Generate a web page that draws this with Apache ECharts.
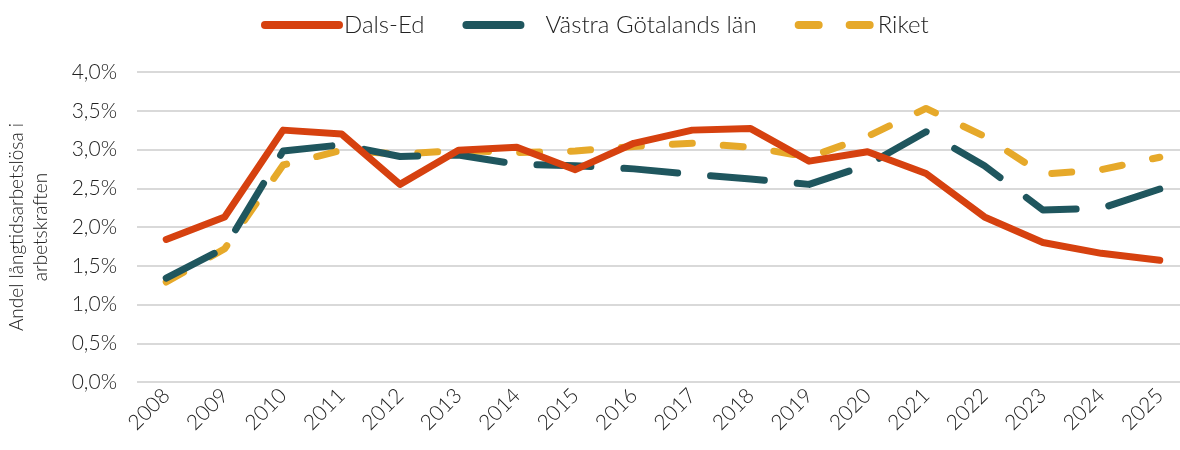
<!DOCTYPE html>
<html>
<head>
<meta charset="utf-8">
<script src="https://cdn.jsdelivr.net/npm/echarts@6/dist/echarts.min.js"></script>
<style>
  html, body { margin: 0; padding: 0; background: #fff; }
  #chart { width: 1180px; height: 450px; }
</style>
</head>
<body>
<div id="chart"></div>
<script>
// år
var years = ['2008','2009','2010','2011','2012','2013','2014','2015','2016','2017','2018','2019','2020','2021','2022','2023','2024','2025'];
// andel långtidsarbetslösa (%)
var dalsEd = [1.84, 2.13, 3.25, 3.20, 2.55, 2.99, 3.03, 2.74, 3.08, 3.25, 3.27, 2.85, 2.97, 2.69, 2.13, 1.80, 1.66, 1.57];
var vastraGotaland = [1.34, 1.73, 2.98, 3.06, 2.91, 2.93, 2.81, 2.79, 2.75, 2.68, 2.62, 2.55, 2.80, 3.23, 2.79, 2.22, 2.24, 2.49];
var riket = [1.29, 1.72, 2.80, 2.99, 2.94, 2.99, 2.96, 2.98, 3.04, 3.08, 3.03, 2.90, 3.17, 3.53, 3.17, 2.68, 2.74, 2.90];

var font = 'Lato';
var chart = echarts.init(document.getElementById('chart'));

chart.setOption({
    animation: false,
    textStyle: { fontFamily: font },
    legend: {
        top: 8,
        left: 256,
        itemWidth: 74,
        itemHeight: 16,
        itemGap: 38,
        itemStyle: { opacity: 0 },
        lineStyle: { width: 8 },
        textStyle: { fontSize: 24, color: '#222', fontFamily: font, fontWeight: 300 },
        data: ['Dals-Ed', 'Västra Götalands län', 'Riket']
    },
    grid: { left: 137, top: 72, width: 1052, height: 310, outerBoundsMode: 'none', containLabel: false },
    xAxis: {
        type: 'category',
        data: years,
        boundaryGap: true,
        axisLine: { show: false },
        axisTick: { show: false },
        axisLabel: { rotate: 45, fontSize: 21, color: '#222', fontWeight: 300, margin: 10, interval: 0 }
    },
    yAxis: {
        type: 'value',
        min: 0,
        max: 4,
        interval: 0.5,
        name: 'Andel långtidsarbetslösa i\narbetskraften',
        nameLocation: 'middle',
        nameGap: 84,
        nameTextStyle: { fontSize: 19, color: '#222', fontWeight: 300, lineHeight: 24 },
        axisLine: { show: false },
        axisTick: { show: false },
        axisLabel: {
            fontSize: 21, color: '#222', fontWeight: 300, margin: 20,
            formatter: function (v) { return v.toFixed(1).replace('.', ',') + '%'; }
        },
        splitLine: { lineStyle: { color: '#d9d9d9', width: 2 } }
    },
    series: [
        {
            name: 'Riket',
            type: 'line',
            data: riket,
            symbol: 'none',
            z: 1,
            itemStyle: { color: '#E6A92A' },
            lineStyle: { color: '#E6A92A', width: 7, type: [20, 31], cap: 'round', join: 'round' }
        },
        {
            name: 'Västra Götalands län',
            type: 'line',
            data: vastraGotaland,
            symbol: 'none',
            z: 2,
            itemStyle: { color: '#1F565E' },
            lineStyle: { color: '#1F565E', width: 7, type: [54, 33], cap: 'round', join: 'round' }
        },
        {
            name: 'Dals-Ed',
            type: 'line',
            data: dalsEd,
            symbol: 'none',
            z: 3,
            itemStyle: { color: '#D6410F' },
            lineStyle: { color: '#D6410F', width: 7, cap: 'round', join: 'round' }
        }
    ]
});
</script>
</body>
</html>
